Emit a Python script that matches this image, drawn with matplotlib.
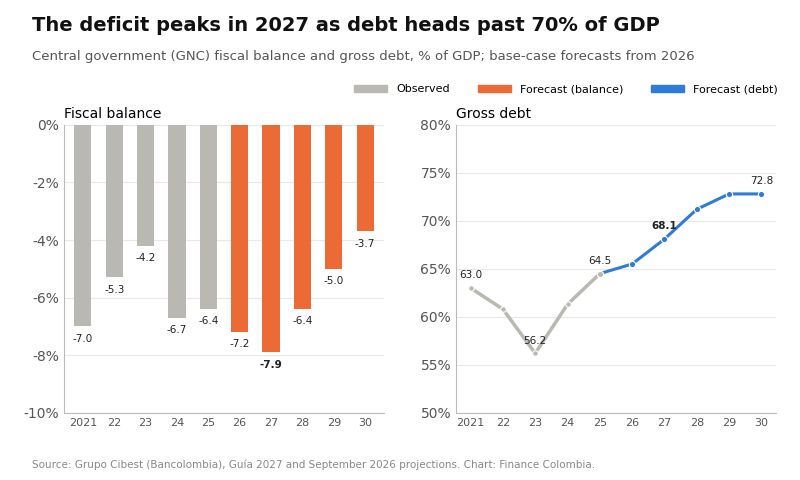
import matplotlib.pyplot as plt
import matplotlib.ticker as mticker
from matplotlib.patches import Patch

years = [2021, 2022, 2023, 2024, 2025, 2026, 2027, 2028, 2029, 2030]
year_labels = ["2021", "22", "23", "24", "25", "26", "27", "28", "29", "30"]
balance = [-7.0, -5.3, -4.2, -6.7, -6.4, -7.2, -7.9, -6.4, -5.0, -3.7]
debt = [63.0, 60.8, 56.2, 61.3, 64.5, 65.5, 68.1, 71.2, 72.8, 72.8]
first_forecast = 2026

GRAY = "#b9b8b2"
ORANGE = "#ec6a36"
BLUE = "#2e7bd9"

fig = plt.figure(figsize=(8, 4.8), dpi=100)
ax1 = fig.add_axes([0.08, 0.14, 0.40, 0.60])
ax2 = fig.add_axes([0.57, 0.14, 0.40, 0.60])

fig.text(0.04, 0.935, "The deficit peaks in 2027 as debt heads past 70% of GDP",
         fontsize=14, fontweight="bold", color="#111111")
fig.text(0.04, 0.875, "Central government (GNC) fiscal balance and gross debt, % of GDP; base-case forecasts from 2026",
         fontsize=9.5, color="#555555")
fig.text(0.04, 0.025, "Source: Grupo Cibest (Bancolombia), Guía 2027 and September 2026 projections. Chart: Finance Colombia.",
         fontsize=7.5, color="#888888")

for ax in (ax1, ax2):
    for s in ("top", "right"):
        ax.spines[s].set_visible(False)
    ax.spines["left"].set_color("#bbbbbb")
    ax.spines["bottom"].set_color("#bbbbbb")
    ax.tick_params(colors="#555555", length=0)
    ax.grid(axis="y", color="#e8e8e8", linewidth=0.8)
    ax.set_axisbelow(True)

# left: balance bars
x = list(range(len(years)))
colors = [ORANGE if y >= first_forecast else GRAY for y in years]
ax1.bar(x, balance, width=0.55, color=colors)
for i, v in enumerate(balance):
    ax1.text(i, v - 0.25, f"{v:.1f}", ha="center", va="top", fontsize=7.5,
             color="#222222", fontweight="bold" if v == min(balance) else "normal")
ax1.set_ylim(-10, 0)
ax1.set_xlim(-0.6, 9.6)
ax1.set_yticks(range(-10, 1, 2))
ax1.yaxis.set_major_formatter(mticker.FuncFormatter(lambda v, p: f"{v:.0f}%"))
ax1.set_xticks(x)
ax1.set_xticklabels(year_labels, fontsize=8)
ax1.tick_params(axis="y", labelsize=10)
ax1.set_title("Fiscal balance", loc="left", fontsize=10, pad=5)

# right: debt line
k = years.index(first_forecast)
ax2.plot(x[:k], debt[:k], color=GRAY, linewidth=2.5, marker="o", markersize=4,
         markeredgecolor="white", markeredgewidth=0.8)
ax2.plot(x[k - 1:], debt[k - 1:], color=BLUE, linewidth=2.2)
ax2.plot(x[k:], debt[k:], color=BLUE, linestyle="none", marker="o", markersize=4.5,
         markeredgecolor="white", markeredgewidth=0.8)
ax2.plot(x[k - 1], debt[k - 1], color=GRAY, marker="o", markersize=4.5,
         markeredgecolor="white", markeredgewidth=0.8)
for yr in (2021, 2023, 2025, 2027, 2030):
    i = years.index(yr)
    ax2.text(i, debt[i] + 0.8, f"{debt[i]:.1f}", ha="center", va="bottom", fontsize=7.5,
             color="#222222", fontweight="bold" if yr == 2027 else "normal")
ax2.set_ylim(50, 80)
ax2.set_xlim(-0.45, 9.45)
ax2.yaxis.set_major_formatter(mticker.FuncFormatter(lambda v, p: f"{v:.0f}%"))
ax2.set_xticks(x)
ax2.set_xticklabels(year_labels, fontsize=8)
ax2.tick_params(axis="y", labelsize=10)
ax2.set_title("Gross debt", loc="left", fontsize=10, pad=5)

handles = [Patch(color=GRAY, label="Observed"),
           Patch(color=ORANGE, label="Forecast (balance)"),
           Patch(color=BLUE, label="Forecast (debt)")]
fig.legend(handles=handles, loc="upper right", bbox_to_anchor=(0.985, 0.845), ncol=3,
           frameon=False, fontsize=8, handlelength=3, handleheight=0.7, columnspacing=2.5)

fig.savefig("out.png", dpi=100)
